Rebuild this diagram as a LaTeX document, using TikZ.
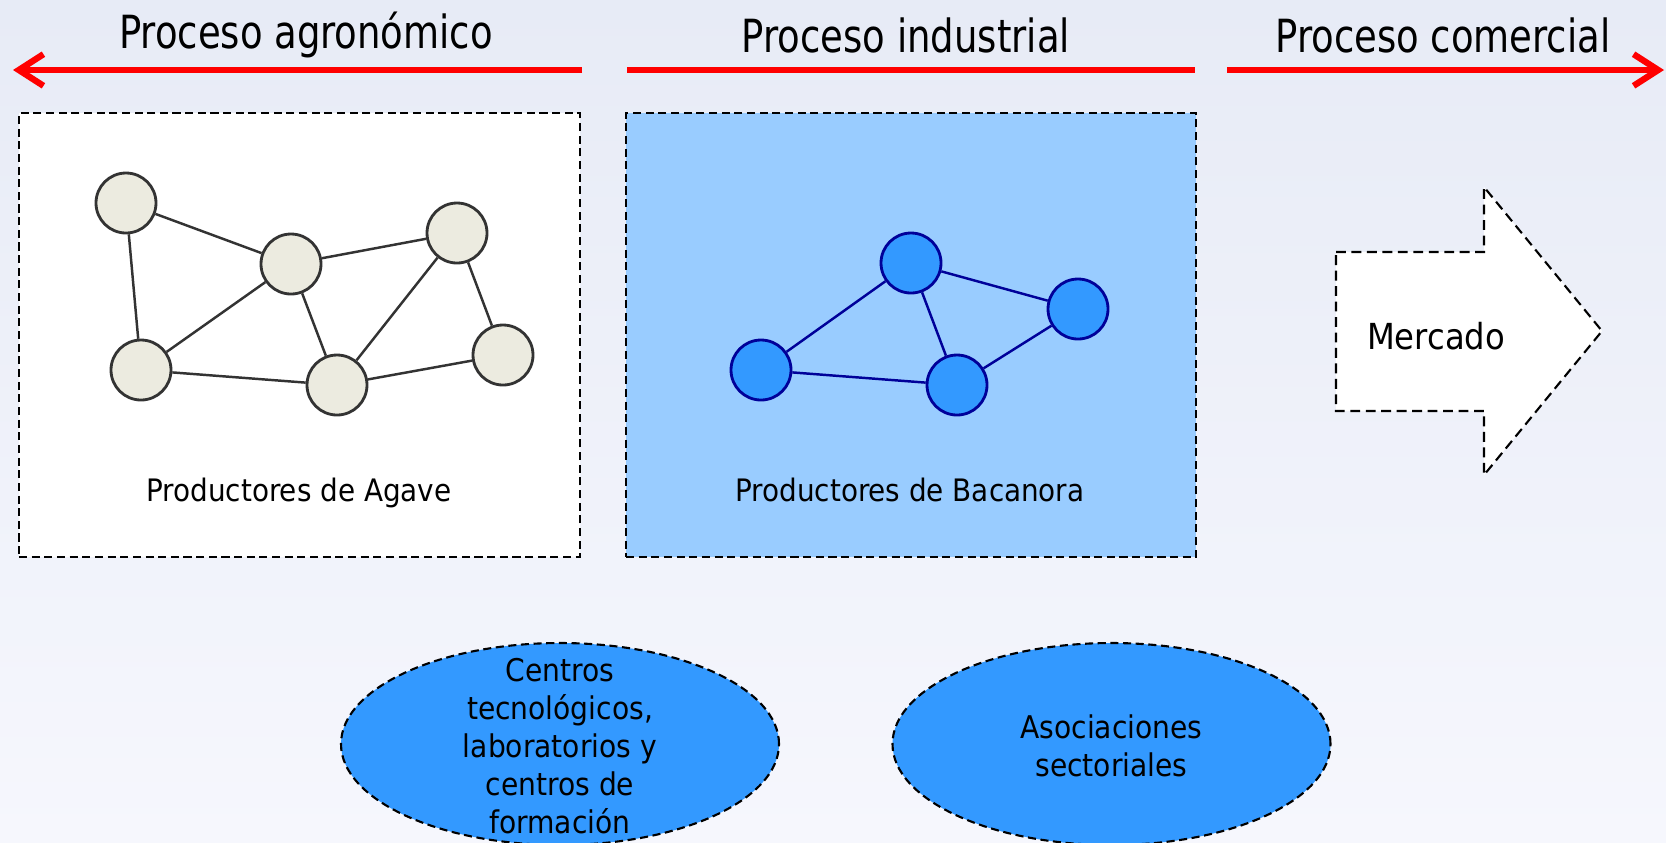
\documentclass[tikz,border=0pt]{standalone}
\usepackage{fontspec}
\setmainfont{DejaVu Sans Condensed}
\newfontfamily\titlefont[FakeStretch=0.9]{DejaVu Sans Condensed}
\usepackage{xcolor}
\usetikzlibrary{positioning,arrows.meta,shapes.geometric}

\definecolor{fondoA}{RGB}{231,235,246}
\definecolor{fondoB}{RGB}{246,247,253}
\definecolor{celeste}{RGB}{153,204,255}
\definecolor{azul}{RGB}{51,153,255}
\definecolor{marino}{RGB}{0,0,153}
\definecolor{crema}{RGB}{236,235,224}
\definecolor{rojo}{RGB}{255,0,0}

\begin{document}
\begin{tikzpicture}[
    caja/.style={draw,dash pattern=on 2.3pt off 1.3pt,line width=0.6pt,inner sep=0pt},
    prod/.style={circle,draw=black!80,fill=crema,line width=0.8pt,minimum size=0.6cm,inner sep=0pt},
    bac/.style={circle,draw=marino,fill=azul,line width=0.8pt,minimum size=0.6cm,inner sep=0pt},
    blob/.style={ellipse,draw,fill=azul,dash pattern=on 2.3pt off 1.3pt,line width=0.6pt,
      minimum width=4.38cm,minimum height=2.02cm,inner sep=0pt},
    flecha/.style={rojo,line width=1.8pt},
    titulo/.style={font=\titlefont\fontsize{13}{15}\selectfont,anchor=base},
    etiqueta/.style={font=\fontsize{8.8}{10.6}\selectfont,anchor=base},
    nube/.style={font=\fontsize{8.9}{10.8}\selectfont,align=center}]
  \shade[top color=fondoA,bottom color=fondoB] (0,0) rectangle (16.66,-8.42);
  \useasboundingbox (0,0) rectangle (16.66,-8.42);

  % procesos
  \node[titulo] (agro) at (3.06,-0.48) {Proceso agronómico};
  \node[titulo] (indus) at (9.06,-0.52) {Proceso industrial};
  \node[titulo] (comer) at (14.43,-0.52) {Proceso comercial};
  \coordinate (agroR) at (5.82,-0.70);
  \coordinate (agroL) at (0.13,-0.70);
  \coordinate (indL) at (6.27,-0.70);
  \coordinate (indR) at (11.95,-0.70);
  \coordinate (comL) at (12.27,-0.70);
  \coordinate (comR) at (16.64,-0.70);
  \draw[flecha,-{Straight Barb[length=7pt,width=9pt]}] (agroR) -- (agroL);
  \draw[flecha] (indL) -- (indR);
  \draw[flecha,-{Straight Barb[length=7pt,width=9pt]}] (comL) -- (comR);

  % cajas
  \node[caja,fill=white,minimum width=5.61cm,minimum height=4.44cm] (agave) at (2.995,-3.35) {};
  \node[caja,fill=celeste,minimum width=5.70cm,minimum height=4.44cm] (bacanora) at (9.11,-3.35) {};
  \node[etiqueta] (lagave) at (2.99,-5.01) {Productores de Agave};
  \node[etiqueta] (lbacanora) at (9.10,-5.01) {Productores de Bacanora};

  % red de productores de agave
  \node[prod] (p1) at (1.26,-2.03) {};
  \node[prod] (p2) at (2.91,-2.64) {};
  \node[prod] (p3) at (4.57,-2.33) {};
  \node[prod] (p4) at (1.41,-3.70) {};
  \node[prod] (p5) at (3.37,-3.85) {};
  \node[prod] (p6) at (5.03,-3.55) {};
  \draw[black!80,line width=0.7pt] (p1) -- (p2) (p1) -- (p4) (p2) -- (p3) (p2) -- (p4)
    (p2) -- (p5) (p3) -- (p5) (p3) -- (p6) (p4) -- (p5) (p5) -- (p6);

  % red de productores de bacanora
  \node[bac] (b1) at (9.11,-2.63) {};
  \node[bac] (b2) at (10.78,-3.09) {};
  \node[bac] (b3) at (7.61,-3.70) {};
  \node[bac] (b4) at (9.57,-3.85) {};
  \draw[marino,line width=0.7pt] (b1) -- (b3) (b1) -- (b2) (b1) -- (b4) (b3) -- (b4) (b4) -- (b2);

  % mercado
  \draw[fill=white,dash pattern=on 2.8pt off 1.6pt,line width=0.6pt]
    (13.36,-2.52) -- (14.84,-2.52) -- (14.84,-1.87) -- (16.02,-3.31) -- (14.84,-4.75)
    -- (14.84,-4.11) -- (13.36,-4.11) -- cycle;
  \node[font=\fontsize{10.2}{12}\selectfont] (mercado) at (14.36,-3.36) {Mercado};

  % apoyos
  \node[blob] (centros) at (5.60,-7.44) {};
  \node[nube] (tcentros) at (5.60,-7.46) {Centros\\tecnológicos,\\laboratorios y\\centros de\\formación};
  \node[blob] (asoc) at (11.115,-7.44) {};
  \node[nube] (tasoc) at (11.115,-7.46) {Asociaciones\\sectoriales};
\end{tikzpicture}
\end{document}
